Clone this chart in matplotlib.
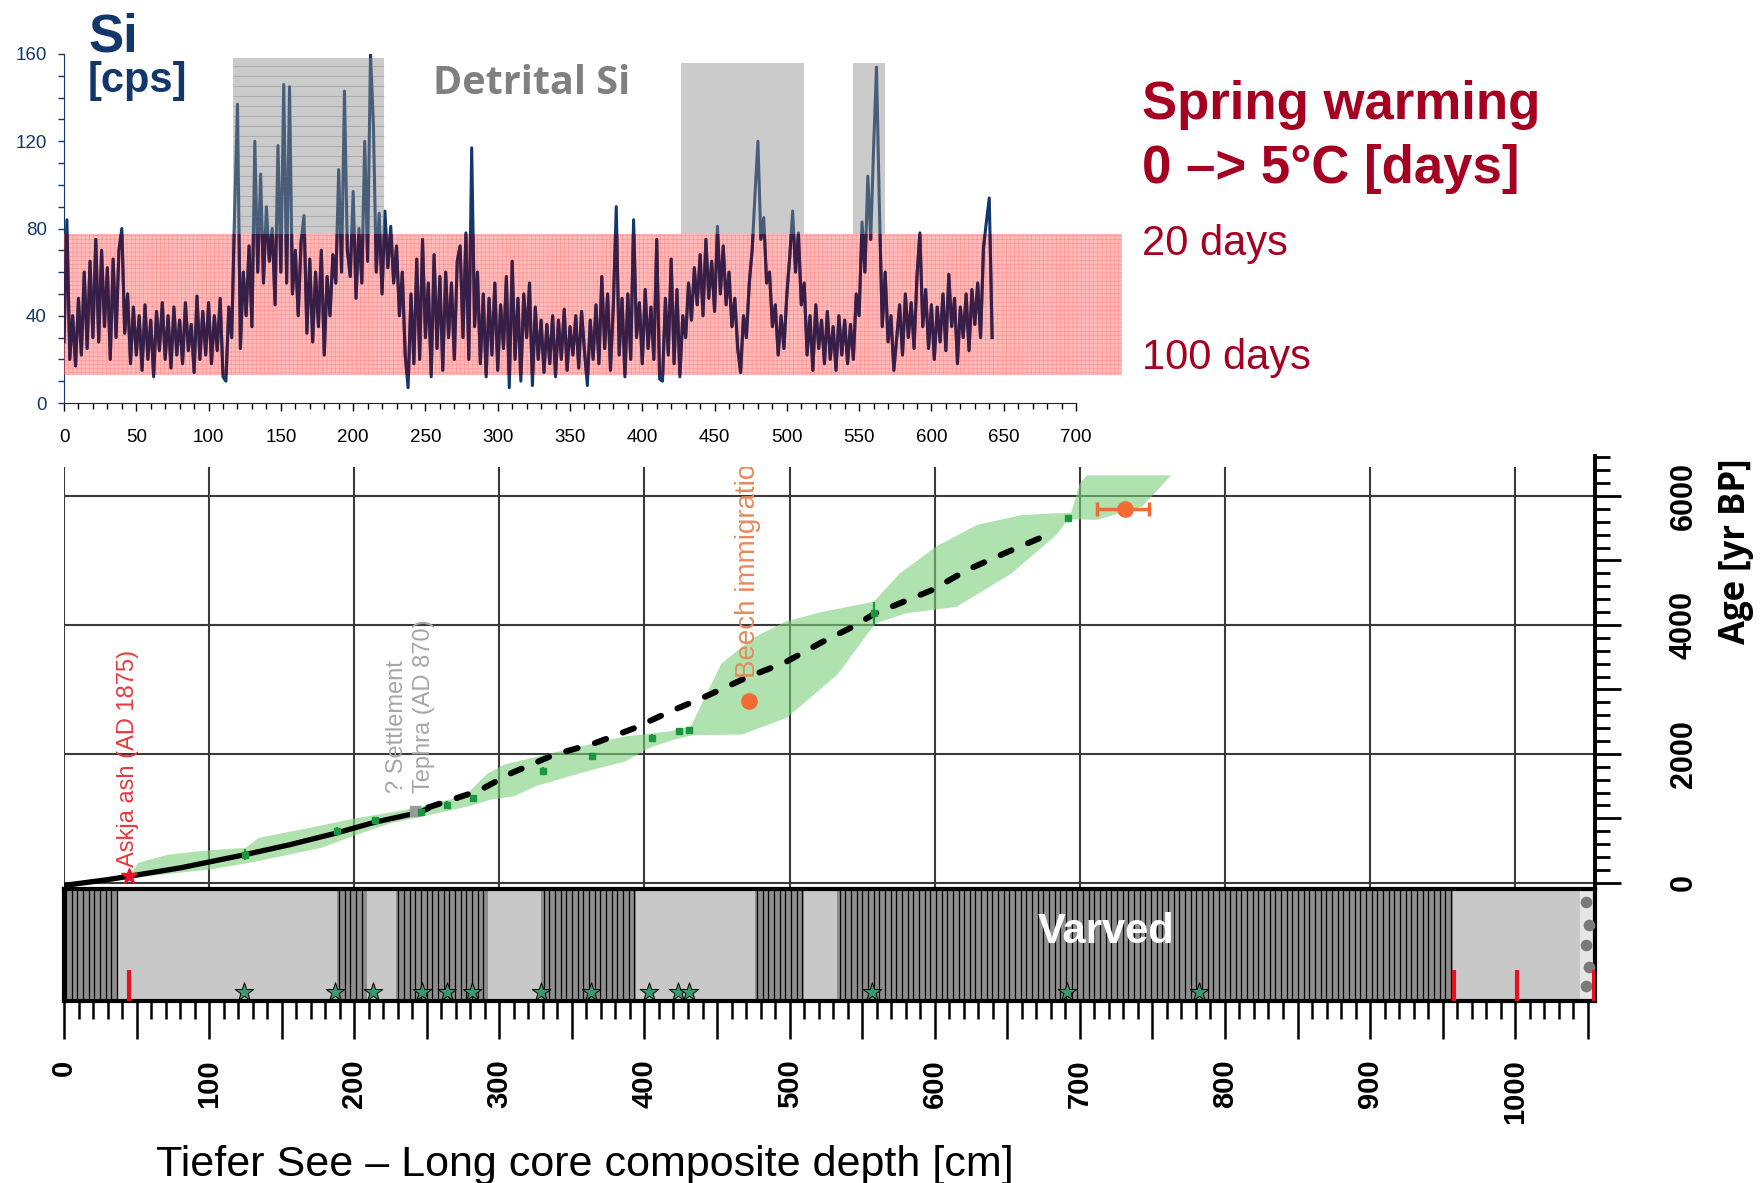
import numpy as np
import matplotlib
matplotlib.use('Agg')
import matplotlib.pyplot as plt
from matplotlib.patches import Rectangle
from matplotlib.ticker import MultipleLocator, FixedLocator, FuncFormatter
from matplotlib.transforms import Bbox, TransformedBbox

plt.rcParams['font.family'] = 'Liberation Sans'
plt.rcParams['hatch.linewidth'] = 0.4

W, H = 1764, 1183

# XRF Si counts along the core, one value every 2 cm from the top
si_cps = [
    28, 84, 20, 40, 17, 48, 22, 60, 25, 65,
    30, 75, 28, 70, 35, 62, 20, 66, 30, 70,
    80, 32, 50, 18, 44, 22, 40, 15, 45, 20,
    38, 12, 42, 24, 46, 20, 40, 16, 44, 22,
    38, 18, 46, 24, 36, 14, 49, 20, 42, 22,
    46, 18, 40, 24, 48, 12, 10, 44, 30, 87,
    137, 25, 60, 40, 72, 35, 120, 60, 105, 55,
    90, 65, 80, 45, 118, 60, 146, 55, 145, 50,
    70, 40, 74, 86, 32, 66, 28, 60, 35, 70,
    22, 58, 40, 68, 55, 107, 60, 143, 70, 58,
    97, 48, 80, 55, 120, 65, 160, 128, 60, 87,
    50, 88, 62, 81, 55, 72, 40, 60, 22, 7,
    50, 18, 66, 20, 75, 30, 55, 12, 68, 25,
    58, 15, 60, 30, 55, 20, 65, 72, 30, 78,
    20, 117, 35, 60, 18, 50, 12, 48, 22, 55,
    15, 45, 25, 58, 7, 65, 20, 48, 10, 50,
    30, 55, 8, 44, 20, 38, 14, 36, 18, 40,
    12, 38, 20, 43, 15, 35, 22, 40, 16, 42,
    24, 8, 38, 20, 45, 18, 58, 25, 50, 15,
    45, 90, 22, 48, 12, 50, 20, 84, 30, 46,
    18, 52, 25, 44, 20, 75, 11, 10, 48, 22,
    66, 18, 52, 12, 40, 30, 55, 38, 62, 45,
    68, 40, 75, 48, 65, 42, 81, 50, 72, 45,
    60, 35, 48, 25, 14, 40, 30, 55, 70, 96,
    120, 75, 85, 55, 60, 35, 45, 22, 40, 25,
    50, 67, 88, 60, 78, 45, 55, 22, 40, 15,
    45, 25, 38, 18, 42, 20, 35, 15, 40, 22,
    38, 18, 36, 20, 50, 40, 83, 60, 104, 75,
    117, 154, 90, 35, 60, 28, 40, 15, 30, 45,
    22, 50, 30, 46, 25, 58, 78, 35, 52, 25,
    45, 20, 44, 28, 50, 24, 59, 35, 48, 18,
    44, 30, 50, 24, 52, 36, 55, 30, 71, 83,
    94, 30,
]
si_depth = np.arange(len(si_cps)) * 2

# detrital Si intervals [cm] and their box tops [cps]
detrital_start = [117, 427, 546]
detrital_end = [221, 512, 568]
detrital_top = [158, 156, 156]

# spring warming scale band (20 days at the top, 100 days at the bottom)
warm_low, warm_high, warm_end = 12.9, 77.7, 732

# age-depth model
askja_depth, askja_age = 45, 105
tephra_depth, tephra_age = 242, 1110
sample_depth = [125, 188, 214, 246, 264, 282, 330, 364, 405, 424, 431, 558, 692]
sample_age = [439, 810, 975, 1100, 1203, 1317, 1730, 1962, 2246, 2350, 2365, 4185, 5663]
sample_err = [90, 60, 50, 60, 60, 20, 60, 30, 60, 20, 20, 170, 30]
beech_depth, beech_age = 472, 2820
pollen_depth, pollen_age = 731, 5797
pollen_xerr = [[19], [17]]

solid_depth = [0, 15, 30, 45, 80, 125, 156, 188, 214, 243, 251]
solid_age = [-40, 5, 50, 103, 232, 439, 594, 775, 940, 1084, 1150]
dash_depth = [251, 286, 308, 338, 365, 392, 418, 443, 470, 497, 522, 546, 558,
              571, 598, 623, 648, 680]
dash_age = [1170, 1430, 1700, 1990, 2160, 2390, 2660, 2900, 3180, 3420, 3730, 4000,
            4170, 4290, 4540, 4860, 5110, 5420]

band_up_depth = [45, 51, 72, 100, 125, 134, 177, 202, 226, 242, 260, 276, 291, 303,
                 322, 356, 387, 418, 432, 440, 453, 475, 497, 522, 540, 558, 576,
                 602, 629, 659, 681, 694, 700, 705, 763]
band_up_age = [105, 310, 439, 506, 542, 697, 888, 1007, 1095, 1162, 1265, 1343, 1678,
               1833, 1936, 2117, 2272, 2350, 2430, 2800, 3400, 3800, 4050, 4200, 4280,
               4360, 4800, 5230, 5550, 5700, 5730, 5735, 6195, 6320, 6320]
band_lo_depth = [45, 48, 79, 100, 128, 177, 202, 226, 248, 263, 279, 294, 310, 325,
                 356, 387, 404, 420, 433, 467, 498, 533, 559, 580, 615, 653, 684, 692,
                 712, 743, 763]
band_lo_age = [105, 77, 155, 207, 310, 542, 749, 930, 1033, 1110, 1188, 1291, 1343,
               1498, 1704, 1885, 2100, 2220, 2290, 2300, 2560, 3230, 4020, 4180, 4280,
               4800, 5400, 5640, 5630, 5838, 6320]

# lithology
varved_start = [0, 188, 229, 329, 476, 533]
varved_end = [37, 209, 292, 394, 510, 957]
gravel_start, core_end = 1045, 1055
red_marks = [45, 958, 1001, 1054]
star_depth = [124, 187, 213, 247, 264, 281, 329, 363, 403, 423, 431, 557, 691, 782]

navy = '#12386b'
dark_red = '#a50021'


def box(l, t, r, b):
    return [l / W, 1 - b / H, (r - l) / W, (b - t) / H]


def ftext(x, y, s, **kw):
    fig.text(x / W, 1 - y / H, s, **kw)


fig = plt.figure(figsize=(W / 100, H / 100), dpi=100)

# ---------- Si record ----------
ax1 = fig.add_axes(box(64, 54, 1076, 403))
ax1.plot(si_depth, si_cps, color=navy, lw=2.2, zorder=2)
for a, b, top in zip(detrital_start, detrital_end, detrital_top):
    ax1.add_patch(Rectangle((a, warm_high), b - a, top - warm_high,
                            facecolor='#8c8c8c', alpha=0.45, lw=0, zorder=3))
ax1.hlines(np.arange(81, 157, 4.6), detrital_start[0], detrital_end[0],
           color='#6e6e6e', lw=0.8, alpha=0.3, zorder=3)
ax1.add_patch(Rectangle((0, warm_low), warm_end, warm_high - warm_low,
                        facecolor=(1, 0.36, 0.36, 0.42), edgecolor=(1, 0.25, 0.25, 0.35),
                        hatch='++++', lw=0, zorder=3, clip_on=False))
tint, = ax1.plot(si_depth, si_cps, color='#2e1a45', lw=2.2, alpha=0.9, zorder=4)
tint.set_clip_path(Rectangle((0, warm_low), warm_end, warm_high - warm_low,
                             transform=ax1.transData))

ax1.set_xlim(0, 700)
ax1.set_ylim(0, 160)
ax1.xaxis.set_major_locator(MultipleLocator(50))
ax1.xaxis.set_minor_locator(MultipleLocator(10))
ax1.yaxis.set_major_locator(MultipleLocator(40))
ax1.yaxis.set_minor_locator(MultipleLocator(10))
ax1.tick_params(axis='x', which='major', length=6, width=1, pad=13, labelsize=13.5)
ax1.tick_params(axis='x', which='minor', length=4.5, width=1)
ax1.tick_params(axis='y', which='both', length=4.5, width=1, color=navy)
ax1.tick_params(axis='y', which='major', pad=8, labelsize=13.5, labelcolor=navy)
for s in ['top', 'right']:
    ax1.spines[s].set_visible(False)
ax1.spines['left'].set_color(navy)
ax1.spines['bottom'].set_color('#222222')

ftext(88, 51, 'Si', fontsize=38, fontweight='bold', color=navy, va='baseline')
ftext(88, 92, '[cps]', fontsize=30, fontweight='bold', color=navy, va='baseline')
ftext(433, 94, 'Detrital Si', fontsize=28.5, fontweight='bold', color='#808080',
      va='baseline', family='Open Sans')
ftext(1142, 119, 'Spring warming', fontsize=38, fontweight='bold', color=dark_red,
      va='baseline')
ftext(1142, 183, '0 \u2013> 5°C [days]', fontsize=38, fontweight='bold', color=dark_red,
      va='baseline')
ftext(1142, 255, '20 days', fontsize=30, color=dark_red, va='baseline')
ftext(1142, 369, '100 days', fontsize=30, color=dark_red, va='baseline')

# ---------- age-depth model ----------
ax2 = fig.add_axes(box(64, 456, 1595, 889))
ax2.set_xlim(0, core_end)
ax2.set_ylim(-95, 6620)
for s in ['left', 'top', 'bottom']:
    ax2.spines[s].set_visible(False)
ax2.spines['right'].set_linewidth(2.8)
ax2.vlines(np.arange(0, 1001, 100), -95, 6450, color='#3a3a3a', lw=1.5, zorder=1)
ax2.hlines([0, 2000, 4000, 6000], 0, core_end, color='#3a3a3a', lw=1.5, zorder=1)

ax2.fill(np.r_[band_up_depth, band_lo_depth[::-1]], np.r_[band_up_age, band_lo_age[::-1]],
         color='#7ccf7c', alpha=0.6, lw=0, zorder=2)
ax2.plot(solid_depth, solid_age, color='k', lw=3.8, solid_capstyle='round', zorder=4)
ax2.plot(dash_depth, dash_age, color='k', lw=4.3, dashes=(2.0, 3.0),
         dash_capstyle='round', zorder=4)
ax2.errorbar(sample_depth, sample_age, yerr=sample_err, fmt='s', ms=4.5,
             color='#1a9641', elinewidth=1.6, capsize=0, zorder=5)
ax2.plot(tephra_depth, tephra_age, 's', ms=7, color='#9a9a9a', zorder=5)
ax2.plot(askja_depth, askja_age, '*', ms=12, color='#e8102a', zorder=6)
ax2.plot(beech_depth, beech_age, 'o', ms=11, color='#f26b35', zorder=6)
ax2.errorbar(pollen_depth, pollen_age, xerr=pollen_xerr, fmt='o', ms=11,
             color='#f26b35', elinewidth=2.5, capsize=5, capthick=2.5, zorder=6)

ax2.text(44, 240, 'Askja ash (AD 1875)', rotation=90, ha='center', va='bottom',
         fontsize=17, color='#e8383d', zorder=7)
ax2.text(239, 1395, '? Settlement\nTephra (AD 870)', rotation=90, ha='center',
         va='bottom', multialignment='left', linespacing=1.3, fontsize=17,
         color='#a6a6a6', zorder=7)
beech = ax2.text(471, 3180, 'Beech immigration', rotation=90, ha='center', va='bottom',
                 fontsize=20, color='#e68a5c', zorder=7)
# the label runs past the top grid line and is cut there
beech.set_clip_box(TransformedBbox(Bbox([[0, -95], [core_end, 6450]]), ax2.transData))
beech.set_clip_on(True)

ax2.yaxis.tick_right()
ax2.yaxis.set_major_locator(FixedLocator(np.arange(0, 6001, 1000)))
ax2.yaxis.set_minor_locator(FixedLocator(np.arange(0, 6601, 200)))
ax2.yaxis.set_major_formatter(FuncFormatter(lambda v, p: '%d' % v if v % 2000 == 0 else ''))
ax2.tick_params(axis='y', which='major', length=19, width=2, pad=34, labelsize=22)
ax2.tick_params(axis='y', which='minor', length=11, width=2)
ax2.tick_params(axis='x', bottom=False, labelbottom=False)
for lbl in ax2.get_yticklabels():
    lbl.set_rotation(90)
    lbl.set_fontweight('bold')
    lbl.set_va('center')
ftext(1736, 551, 'Age [yr BP]', rotation=90, fontsize=25, fontweight='bold',
      family='Open Sans', ha='center', va='center')

# ---------- lithology column ----------
ax3 = fig.add_axes(box(64, 889, 1595, 1001))
ax3.set_xlim(0, core_end)
ax3.set_ylim(0, 1)
ax3.axvspan(0, gravel_start, color='#c8c8c8', lw=0)
for a, b in zip(varved_start, varved_end):
    ax3.axvspan(a, b, color='#8e8e8e', lw=0)
    ax3.vlines(np.arange(a + 1.5, b, 3.9), 0, 1, color='k', lw=0.9)
ax3.axvspan(gravel_start, core_end, color='#e6e6e6', lw=0)
ax3.scatter([1049, 1051, 1049, 1051, 1049], [0.88, 0.68, 0.5, 0.3, 0.13],
            s=55, color='#7a7a7a', zorder=3)
ax3.vlines(red_marks, 0, 0.28, color='#e8101e', lw=3, zorder=4)
ax3.scatter(star_depth, [0.08] * len(star_depth), marker='*', s=200,
            color='#3a9a6c', edgecolors='k', linewidths=0.7, zorder=5, clip_on=False)
ax3.text(718, 0.62, 'Varved', color='white', fontweight='bold', fontsize=30,
         ha='center', va='center')
for s in ax3.spines.values():
    s.set_linewidth(3)
ax3.tick_params(axis='y', left=False, labelleft=False)
ax3.xaxis.set_major_locator(MultipleLocator(50))
ax3.xaxis.set_minor_locator(MultipleLocator(10))
ax3.xaxis.set_major_formatter(FuncFormatter(lambda v, p: '%d' % v if v % 100 == 0 else ''))
ax3.tick_params(axis='x', which='major', length=27, width=1.8, pad=15, labelsize=21,
                labelrotation=90)
ax3.tick_params(axis='x', which='minor', length=13, width=1.8)
for lbl in ax3.get_xticklabels():
    lbl.set_fontweight('bold')

ftext(585, 1176, 'Tiefer See \u2013 Long core composite depth [cm]', fontsize=31,
      ha='center', va='baseline')

fig.savefig('out.png', dpi=100)
